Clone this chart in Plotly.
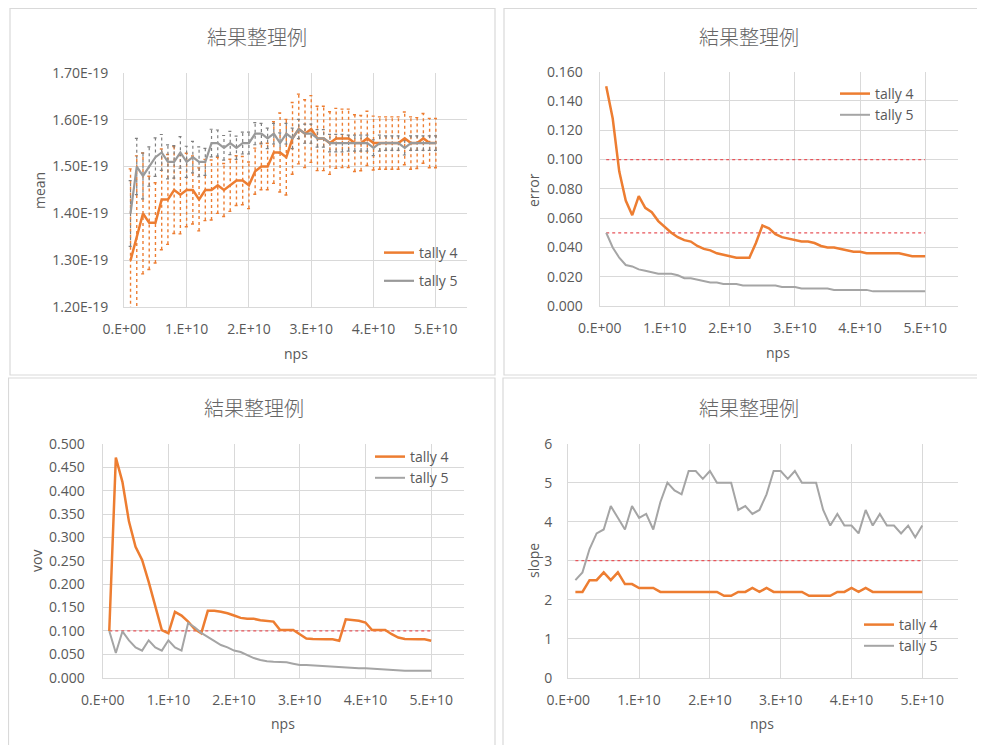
import plotly.graph_objects as go

# ---------------- data ----------------
nps = [1e9, 2e9, 3e9, 4e9, 5e9, 6e9, 7e9, 8e9, 9e9, 1e10,
       1.1e10, 1.2e10, 1.3e10, 1.4e10, 1.5e10, 1.6e10, 1.7e10, 1.8e10, 1.9e10, 2e10,
       2.1e10, 2.2e10, 2.3e10, 2.4e10, 2.5e10, 2.6e10, 2.7e10, 2.8e10, 2.9e10, 3e10,
       3.1e10, 3.2e10, 3.3e10, 3.4e10, 3.5e10, 3.6e10, 3.7e10, 3.8e10, 3.9e10, 4e10,
       4.1e10, 4.2e10, 4.3e10, 4.4e10, 4.5e10, 4.6e10, 4.7e10, 4.8e10, 4.9e10, 5e10]

series_names = ["tally 4", "tally 5"]

mean_t4 = [1.30e-19, 1.35e-19, 1.40e-19, 1.38e-19, 1.38e-19, 1.43e-19, 1.43e-19, 1.45e-19, 1.44e-19, 1.45e-19,
           1.45e-19, 1.43e-19, 1.45e-19, 1.45e-19, 1.46e-19, 1.45e-19, 1.46e-19, 1.47e-19, 1.47e-19, 1.46e-19,
           1.49e-19, 1.50e-19, 1.50e-19, 1.53e-19, 1.53e-19, 1.52e-19, 1.56e-19, 1.58e-19, 1.57e-19, 1.58e-19,
           1.56e-19, 1.56e-19, 1.55e-19, 1.56e-19, 1.56e-19, 1.56e-19, 1.55e-19, 1.55e-19, 1.56e-19, 1.55e-19,
           1.55e-19, 1.55e-19, 1.55e-19, 1.55e-19, 1.56e-19, 1.55e-19, 1.55e-19, 1.56e-19, 1.55e-19, 1.55e-19]
mean_t5 = [1.40e-19, 1.50e-19, 1.48e-19, 1.50e-19, 1.52e-19, 1.53e-19, 1.51e-19, 1.51e-19, 1.53e-19, 1.51e-19,
           1.52e-19, 1.51e-19, 1.51e-19, 1.55e-19, 1.55e-19, 1.54e-19, 1.55e-19, 1.54e-19, 1.55e-19, 1.55e-19,
           1.57e-19, 1.57e-19, 1.56e-19, 1.57e-19, 1.55e-19, 1.57e-19, 1.56e-19, 1.58e-19, 1.57e-19, 1.57e-19,
           1.56e-19, 1.56e-19, 1.55e-19, 1.55e-19, 1.55e-19, 1.55e-19, 1.55e-19, 1.55e-19, 1.55e-19, 1.54e-19,
           1.55e-19, 1.55e-19, 1.55e-19, 1.55e-19, 1.54e-19, 1.55e-19, 1.55e-19, 1.55e-19, 1.55e-19, 1.55e-19]

error_t4 = [0.150, 0.128, 0.092, 0.072, 0.062, 0.075, 0.067, 0.064, 0.058, 0.054,
            0.050, 0.047, 0.045, 0.044, 0.041, 0.039, 0.038, 0.036, 0.035, 0.034,
            0.033, 0.033, 0.033, 0.043, 0.055, 0.053, 0.049, 0.047, 0.046, 0.045,
            0.044, 0.044, 0.043, 0.041, 0.040, 0.040, 0.039, 0.038, 0.037, 0.037,
            0.036, 0.036, 0.036, 0.036, 0.036, 0.036, 0.035, 0.034, 0.034, 0.034]
error_t5 = [0.050, 0.040, 0.033, 0.028, 0.027, 0.025, 0.024, 0.023, 0.022, 0.022,
            0.022, 0.021, 0.019, 0.019, 0.018, 0.017, 0.016, 0.016, 0.015, 0.015,
            0.015, 0.014, 0.014, 0.014, 0.014, 0.014, 0.014, 0.013, 0.013, 0.013,
            0.012, 0.012, 0.012, 0.012, 0.012, 0.011, 0.011, 0.011, 0.011, 0.011,
            0.011, 0.010, 0.010, 0.010, 0.010, 0.010, 0.010, 0.010, 0.010, 0.010]

vov_t4 = [0.100, 0.471, 0.419, 0.334, 0.280, 0.252, 0.205, 0.155, 0.102, 0.095,
          0.141, 0.133, 0.120, 0.104, 0.095, 0.143, 0.143, 0.141, 0.138, 0.133,
          0.128, 0.126, 0.126, 0.123, 0.122, 0.120, 0.102, 0.102, 0.102, 0.093,
          0.084, 0.083, 0.082, 0.082, 0.082, 0.079, 0.125, 0.123, 0.122, 0.118,
          0.102, 0.102, 0.102, 0.093, 0.086, 0.083, 0.082, 0.082, 0.082, 0.079]
vov_t5 = [0.100, 0.053, 0.099, 0.080, 0.065, 0.058, 0.080, 0.065, 0.058, 0.080,
          0.065, 0.058, 0.117, 0.108, 0.096, 0.087, 0.078, 0.070, 0.065, 0.058,
          0.055, 0.048, 0.042, 0.038, 0.035, 0.034, 0.034, 0.033, 0.030, 0.027,
          0.027, 0.026, 0.025, 0.024, 0.023, 0.022, 0.022, 0.021, 0.020, 0.020,
          0.019, 0.018, 0.017, 0.016, 0.016, 0.015, 0.015, 0.015, 0.015, 0.015]

slope_t4 = [2.2, 2.2, 2.5, 2.5, 2.7, 2.5, 2.7, 2.4, 2.4, 2.3,
            2.3, 2.3, 2.2, 2.2, 2.2, 2.2, 2.2, 2.2, 2.2, 2.2,
            2.2, 2.1, 2.1, 2.2, 2.2, 2.3, 2.2, 2.3, 2.2, 2.2,
            2.2, 2.2, 2.2, 2.1, 2.1, 2.1, 2.1, 2.2, 2.2, 2.3,
            2.2, 2.3, 2.2, 2.2, 2.2, 2.2, 2.2, 2.2, 2.2, 2.2]
slope_t5 = [2.5, 2.7, 3.3, 3.7, 3.8, 4.4, 4.1, 3.8, 4.4, 4.1,
            4.2, 3.8, 4.5, 5.0, 4.8, 4.7, 5.3, 5.3, 5.1, 5.3,
            5.0, 5.0, 5.0, 4.3, 4.4, 4.2, 4.3, 4.7, 5.3, 5.3,
            5.1, 5.3, 5.0, 5.0, 5.0, 4.3, 3.9, 4.2, 3.9, 3.9,
            3.7, 4.3, 3.9, 4.2, 3.9, 3.9, 3.7, 3.9, 3.6, 3.9]

error_limits = [0.100, 0.050]
vov_limits = [0.100]
slope_limits = [3]

chart_title = "結果整理例"
y_titles = ["mean", "error", "vov", "slope"]
x_title = "nps"

x_tickvals = [0, 1e10, 2e10, 3e10, 4e10, 5e10]
x_ticktext = ["0.E+00", "1.E+10", "2.E+10", "3.E+10", "4.E+10", "5.E+10"]
mean_tickvals = [1.2e-19, 1.3e-19, 1.4e-19, 1.5e-19, 1.6e-19, 1.7e-19]
mean_ticktext = ["1.20E-19", "1.30E-19", "1.40E-19", "1.50E-19", "1.60E-19", "1.70E-19"]

# ---------------- style ----------------
OFF = 8                      # page body margin in the browser
W, H = 985 - OFF, 745 - OFF
ORANGE = "#ED7D31"
GRAY = "#A5A5A5"
TXT = "#595959"
GRID = "#D9D9D9"
LIMIT = "#E8545A"
FONT = "Open Sans"
CJK = "Noto Sans CJK JP"

def px(x):
    return (x - OFF) / W

def py(y):
    return 1 - (y - OFF) / H

# plot areas in screen pixels: (left, right, top, bottom)
areas = [
    (124.3, 467.0, 72.7, 307.3),
    (599.7, 957.7, 71.7, 306.0),
    (102.7, 464.0, 444.0, 677.7),
    (568.3, 957.7, 443.7, 677.7),
]

fig = go.Figure()

# ---- chart 1: mean with dotted error bars ----
def errbar_path(xs, ms, es):
    bx, by = [], []
    cap = 0.3e9
    for x, m, e in zip(xs, ms, es):
        lo, hi = m - m * e, m + m * e
        bx += [x, x, None, x - cap, x + cap, None, x - cap, x + cap, None]
        by += [lo, hi, None, hi, hi, None, lo, lo, None]
    return bx, by

bx, by = errbar_path(nps, mean_t4, error_t4)
fig.add_trace(go.Scatter(x=bx, y=by, mode="lines", xaxis="x", yaxis="y",
                         line=dict(color=ORANGE, width=1.4, dash="dot"),
                         showlegend=False, hoverinfo="skip"))
bx, by = errbar_path(nps, mean_t5, error_t5)
fig.add_trace(go.Scatter(x=bx, y=by, mode="lines", xaxis="x", yaxis="y",
                         line=dict(color="#7F7F7F", width=1.2, dash="dot"),
                         showlegend=False, hoverinfo="skip"))

fig.add_trace(go.Scatter(x=nps, y=mean_t4, mode="lines", name=series_names[0],
                         xaxis="x", yaxis="y", legend="legend", legendgroup="a1",
                         line=dict(color=ORANGE, width=2.5)))
fig.add_trace(go.Scatter(x=nps, y=mean_t5, mode="lines", name=series_names[1],
                         xaxis="x", yaxis="y", legend="legend", legendgroup="b1",
                         line=dict(color="#999999", width=2.2)))

# ---- helper for limit lines ----
def add_limits(limits, xa, ya):
    for lim in limits:
        fig.add_trace(go.Scatter(x=[nps[0], nps[-1]], y=[lim, lim], mode="lines",
                                 xaxis=xa, yaxis=ya, showlegend=False, hoverinfo="skip",
                                 line=dict(color=LIMIT, width=1.2, dash="dot")))

# ---- chart 2: error ----
add_limits(error_limits, "x2", "y2")
fig.add_trace(go.Scatter(x=nps, y=error_t4, mode="lines", name=series_names[0],
                         xaxis="x2", yaxis="y2", legend="legend2", legendgroup="a2",
                         line=dict(color=ORANGE, width=2.5)))
fig.add_trace(go.Scatter(x=nps, y=error_t5, mode="lines", name=series_names[1],
                         xaxis="x2", yaxis="y2", legend="legend2", legendgroup="b2",
                         line=dict(color=GRAY, width=2)))

# ---- chart 3: vov ----
add_limits(vov_limits, "x3", "y3")
fig.add_trace(go.Scatter(x=nps, y=vov_t4, mode="lines", name=series_names[0],
                         xaxis="x3", yaxis="y3", legend="legend3", legendgroup="a3",
                         line=dict(color=ORANGE, width=2.5)))
fig.add_trace(go.Scatter(x=nps, y=vov_t5, mode="lines", name=series_names[1],
                         xaxis="x3", yaxis="y3", legend="legend3", legendgroup="b3",
                         line=dict(color=GRAY, width=2)))

# ---- chart 4: slope ----
add_limits(slope_limits, "x4", "y4")
fig.add_trace(go.Scatter(x=nps, y=slope_t4, mode="lines", name=series_names[0],
                         xaxis="x4", yaxis="y4", legend="legend4", legendgroup="a4",
                         line=dict(color=ORANGE, width=2.5)))
fig.add_trace(go.Scatter(x=nps, y=slope_t5, mode="lines", name=series_names[1],
                         xaxis="x4", yaxis="y4", legend="legend4", legendgroup="b4",
                         line=dict(color=GRAY, width=2)))

# ---------------- axes ----------------
tickfont = dict(family=FONT, size=14, color=TXT)
layout = dict(
    width=W, height=H,
    margin=dict(l=0, r=0, t=0, b=0),
    paper_bgcolor="white", plot_bgcolor="white",
    font=dict(family=FONT, color=TXT),
)

y_specs = [
    dict(range=[1.2e-19, 1.7e-19], tickvals=mean_tickvals, ticktext=mean_ticktext, ticklabelstandoff=12),
    dict(range=[0, 0.16], dtick=0.02, tickformat=".3f", ticklabelstandoff=13),
    dict(range=[0, 0.5], dtick=0.05, tickformat=".3f", ticklabelstandoff=14),
    dict(range=[0, 6], dtick=1, tickformat="d", ticklabelstandoff=12),
]

for i, (l, r, t, b) in enumerate(areas):
    k = "" if i == 0 else str(i + 1)
    layout["xaxis" + k] = dict(
        domain=[px(l), px(r)], anchor="y" + k, range=[0, 5.5e10],
        tickvals=x_tickvals, ticktext=x_ticktext, tickfont=tickfont,
        showgrid=True, gridcolor=GRID, gridwidth=1,
        zeroline=False, showline=True, linecolor=GRID, linewidth=1.3,
        ticks="", ticklabelstandoff=9, fixedrange=True, automargin=False,
    )
    ys = dict(
        domain=[py(b), py(t)], anchor="x" + k, tickfont=tickfont,
        showgrid=True, gridcolor=GRID, gridwidth=1,
        zeroline=False, showline=True, linecolor=GRID, linewidth=1.3,
        ticks="", fixedrange=True, automargin=False,
    )
    ys.update(y_specs[i])
    layout["yaxis" + k] = ys

# ---------------- legends ----------------
legfont = dict(family=FONT, size=14, color=TXT)
leg_pos = [(379, 237, 7), (835, 78, 0), (370, 441, 0), (859, 609, 0)]
for i, (lx, ly, gap) in enumerate(leg_pos):
    k = "legend" if i == 0 else "legend" + str(i + 1)
    layout[k] = dict(x=px(lx), y=py(ly), xanchor="left", yanchor="top",
                     bgcolor="rgba(0,0,0,0)", borderwidth=0, font=legfont,
                     tracegroupgap=gap, itemclick=False, itemdoubleclick=False)

# ---------------- annotations ----------------
anns = []
title_pos = [(257, 36), (749, 36), (254, 407), (749, 407)]
for (x, y) in title_pos:
    anns.append(dict(text=chart_title, x=px(x), y=py(y), xref="paper", yref="paper",
                     showarrow=False, xanchor="center", yanchor="middle",
                     font=dict(family=CJK, size=20, color="#666666", weight=300)))
ytitle_pos = [(39, 190), (533, 190), (36, 561), (533, 561)]
for (x, y), t in zip(ytitle_pos, y_titles):
    anns.append(dict(text=t, x=px(x), y=py(y), xref="paper", yref="paper",
                     showarrow=False, xanchor="center", yanchor="middle", textangle=-90,
                     font=dict(family=FONT, size=14, color=TXT)))
xtitle_pos = [(296, 353), (778, 352), (283, 723), (762, 723)]
for (x, y) in xtitle_pos:
    anns.append(dict(text=x_title, x=px(x), y=py(y), xref="paper", yref="paper",
                     showarrow=False, xanchor="center", yanchor="middle",
                     font=dict(family=FONT, size=14, color=TXT)))
layout["annotations"] = anns

# ---------------- panel borders ----------------
shapes = []
panels = [(10, 8.5, 495, 375), (504, 8.5, 990, 375), (8.5, 378, 495, 750), (503, 378, 990, 750)]
for (x0, y0, x1, y1) in panels:
    shapes.append(dict(type="rect", xref="paper", yref="paper",
                       x0=px(x0), x1=px(x1), y0=py(y1), y1=py(y0),
                       line=dict(color="#D9D9D9", width=1.2), layer="below"))
layout["shapes"] = shapes

fig.update_layout(**layout)
fig.write_html("out.html")
